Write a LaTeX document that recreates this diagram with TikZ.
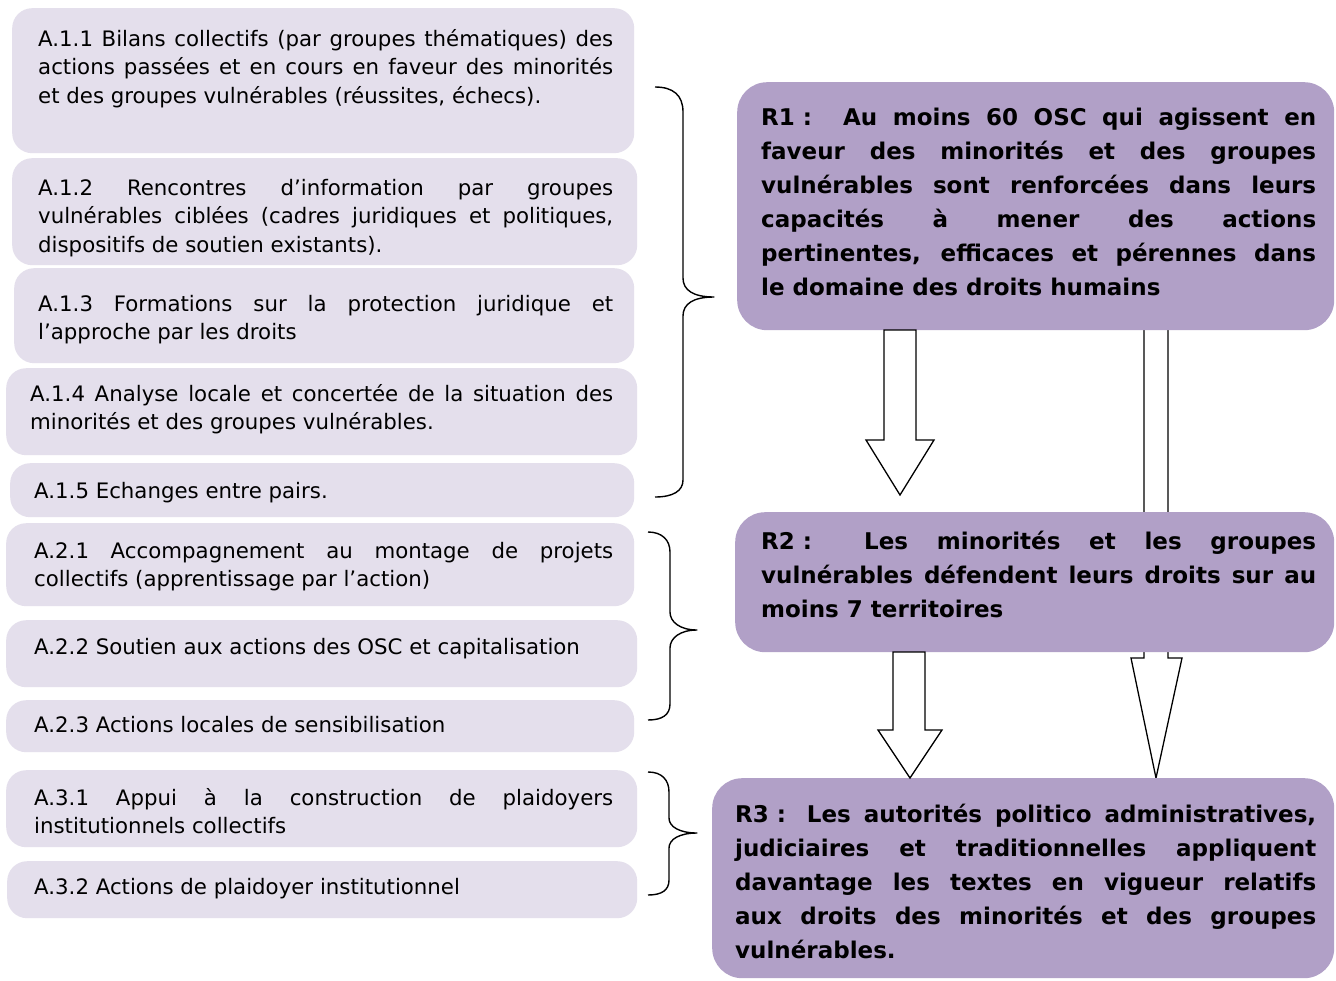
\documentclass[tikz,border=0pt]{standalone}
\usepackage{fontspec}
\newfontfamily\dv{DejaVu Sans}
\newcommand\actfont{\dv\fontsize{21.3}{28.5}\selectfont}
\newcommand\resfont{\dv\bfseries\fontsize{23}{34}\selectfont}
\definecolor{lav}{RGB}{228,223,236}
\definecolor{purp}{RGB}{177,160,199}
\tolerance=10000 \hbadness=10000
\tikzset{
  act/.style={fill=lav, rounded corners=20pt, draw=none, anchor=north west, inner sep=0pt, rectangle},
  res/.style={fill=purp, rounded corners=30pt, draw=none, anchor=north west, inner sep=0pt, rectangle},
  atext/.style={anchor=north west, inner sep=0pt, align=justify, font=\actfont},
  rtext/.style={anchor=north west, inner sep=0pt, align=justify, font=\resfont},
  brace/.style={draw=black, line width=1.4pt, line join=round},
  barrow/.style={draw=black, fill=white, line width=1.3pt, line join=miter}
}
\begin{document}
\begin{tikzpicture}[x=1pt, y=-1pt]
\useasboundingbox[fill=white] (0,0) rectangle (1336,980);
% activity boxes
\node[act, minimum width=622pt, minimum height=145pt] (a11) at (12,8) {};
\node[act, minimum width=625pt, minimum height=107pt] (a12) at (12,158) {};
\node[act, minimum width=620pt, minimum height=95pt] (a13) at (14,268) {};
\node[act, minimum width=631pt, minimum height=87pt] (a14) at (6,368) {};
\node[act, minimum width=624pt, minimum height=54pt] (a15) at (10,463) {};
\node[act, minimum width=628pt, minimum height=83pt] (a21) at (6,523) {};
\node[act, minimum width=631pt, minimum height=67pt] (a22) at (6,620) {};
\node[act, minimum width=628pt, minimum height=52pt] (a23) at (6,700) {};
\node[act, minimum width=631pt, minimum height=77pt] (a31) at (6,770) {};
\node[act, minimum width=630pt, minimum height=57pt] (a32) at (7,861) {};
% activity texts
\node[atext, text width=575pt] (t11) at (38,26) {\strut A.1.1 Bilans collectifs (par groupes thématiques) des\linebreak actions passées et en cours en faveur des minorités\linebreak et des groupes vulnérables (réussites, échecs).};
\node[atext, text width=575pt] (t12) at (38,175) {\strut A.1.2 Rencontres d’information par groupes\linebreak vulnérables ciblées (cadres juridiques et politiques,\linebreak dispositifs de soutien existants).};
\node[atext, text width=575pt] (t13) at (38,291) {\strut A.1.3 Formations sur la protection juridique et\linebreak l’approche par les droits};
\node[atext, text width=583pt] (t14) at (30,381) {\strut A.1.4 Analyse locale et concertée de la situation des\linebreak minorités et des groupes vulnérables.};
\node[atext, text width=579pt] (t15) at (34,478) {\strut A.1.5 Echanges entre pairs.};
\node[atext, text width=579pt] (t21) at (34,538) {\strut A.2.1 Accompagnement au montage de projets\linebreak collectifs (apprentissage par l’action)};
\node[atext, text width=579pt] (t22) at (34,634) {\strut A.2.2 Soutien aux actions des OSC et capitalisation};
\node[atext, text width=579pt] (t23) at (34,712) {\strut A.2.3 Actions locales de sensibilisation};
\node[atext, text width=579pt] (t31) at (34,785) {\strut A.3.1 Appui à la construction de plaidoyers\linebreak institutionnels collectifs};
\node[atext, text width=579pt] (t32) at (34,874) {\strut A.3.2 Actions de plaidoyer institutionnel};
% braces
\draw[brace] (655,87) .. controls (673,87) and (683,95) .. (683,112) -- (683,278) .. controls (683,290) and (693,297) .. (714,297) .. controls (693,297) and (683,304) .. (683,316) -- (683,480) .. controls (683,491) and (673,497) .. (655,497);
\draw[brace] (648,532) .. controls (662,532) and (670,540) .. (670,552) -- (670,612) .. controls (670,622) and (680,630) .. (697,630) .. controls (680,630) and (670,638) .. (670,648) -- (670,704) .. controls (670,715) and (662,720) .. (648,720);
\draw[brace] (648,772) .. controls (662,772) and (669,780) .. (669,792) -- (669,818) .. controls (669,827) and (680,833) .. (697,833) .. controls (680,833) and (669,839) .. (669,848) -- (669,880) .. controls (669,890) and (662,895) .. (648,895);
% long arrow R1 -> R3 (behind R2)
\draw[barrow] (1144,328) -- (1144,658) -- (1131,658) -- (1156,778) -- (1182,658) -- (1168,658) -- (1168,328) -- cycle;
% result boxes
\node[res, minimum width=597pt, minimum height=248pt] (r1) at (737,82) {};
\node[res, minimum width=599pt, minimum height=140pt] (r2) at (735,512) {};
\node[res, minimum width=622pt, minimum height=200pt] (r3) at (712,778) {};
\node[rtext, text width=555pt] (s1) at (761,101) {\strut R1\hspace{8pt}:\ \ Au moins 60 OSC qui agissent en\linebreak faveur des minorités et des groupes\linebreak vulnérables sont renforcées dans leurs\linebreak capacités à mener des actions\linebreak pertinentes, efficaces et pérennes dans\linebreak le domaine des droits humains};
\node[rtext, text width=555pt] (s2) at (761,525) {\strut R2\hspace{8pt}: Les minorités et les groupes\linebreak vulnérables défendent leurs droits sur au\linebreak moins 7 territoires};
\node[rtext, text width=581pt] (s3) at (735,798) {\strut R3\hspace{8pt}: Les autorités politico administratives,\linebreak judiciaires et traditionnelles appliquent\linebreak davantage les textes en vigueur relatifs\linebreak aux droits des minorités et des groupes\linebreak vulnérables.};
% block arrows
\draw[barrow] (884,330) -- (884,440) -- (866,440) -- (900,495) -- (934,440) -- (916,440) -- (916,330) -- cycle;
\draw[barrow] (893,652) -- (893,730) -- (878,730) -- (910,778) -- (942,730) -- (925,730) -- (925,652) -- cycle;
\end{tikzpicture}
\end{document}
